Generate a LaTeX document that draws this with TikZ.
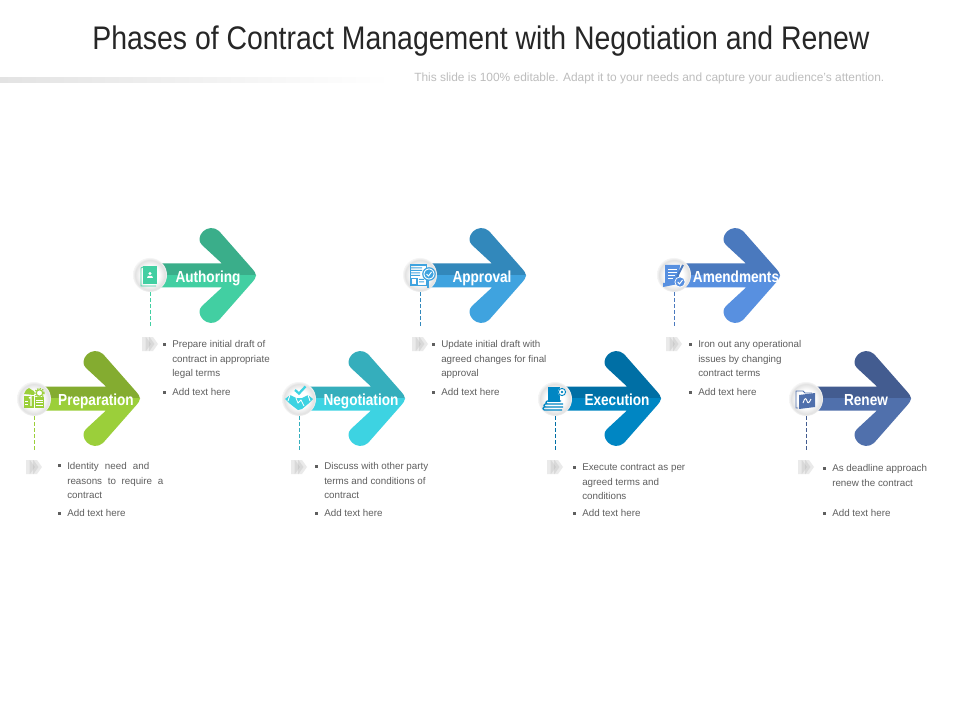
\documentclass[tikz,border=0pt]{standalone}
\usepackage{fontspec}
\setmainfont{Liberation Sans}
\newfontfamily\titlefont[FakeStretch=0.87]{Liberation Sans}
\newfontfamily\headfont[FakeStretch=0.85]{Liberation Sans}
\definecolor{discrim}{HTML}{E2E2E2}
\definecolor{discout}{HTML}{F4F4F4}
\pgfdeclareradialshading{discshade}{\pgfpoint{0bp}{0bp}}{color(0bp)=(white); color(13bp)=(white); color(22bp)=(discrim); color(25bp)=(discout); color(50bp)=(discout)}
\definecolor{bodygray}{HTML}{5F5F5F}
\definecolor{subgray}{HTML}{BDBDBD}
\definecolor{prepD}{HTML}{84AC30}\definecolor{prepL}{HTML}{9BCF3A}
\definecolor{authD}{HTML}{3AAE8A}\definecolor{authL}{HTML}{42CFA2}
\definecolor{negoD}{HTML}{35AEBC}\definecolor{negoL}{HTML}{3DD3E2}
\definecolor{apprD}{HTML}{3288BB}\definecolor{apprL}{HTML}{3FA3DF}
\definecolor{execD}{HTML}{006FA5}\definecolor{execL}{HTML}{0086C3}
\definecolor{amenD}{HTML}{4A79BE}\definecolor{amenL}{HTML}{5890E0}
\definecolor{reneD}{HTML}{435C90}\definecolor{reneL}{HTML}{5070AC}
\tikzset{
  disc/.style={circle,minimum size=25.5pt,inner sep=0pt,shading=discshade},
  headlabel/.style={anchor=base,text=white,inner sep=0pt,font=\headfont\bfseries\fontsize{12pt}{14pt}\selectfont},
  bodyline/.style={anchor=base west,inner sep=0pt,text=bodygray,font=\fontsize{7.35pt}{9pt}\selectfont},
  leader/.style={line width=0.6pt,dash pattern=on 2.6pt off 1.9pt},
  wline/.style={draw=white,line width=0.6pt},
}
% #1 tip x, #2 mid y, #3 shaft start (relative), #4 dark, #5 light
\newcommand\BigArrow[5]{%
  \begin{scope}[shift={(#1,#2)}]
    \def\outline{(#3,-12) -- (-34,-12) -- (-54,-30.5)
      .. controls (-58,-34) and (-57,-40) .. (-53,-44)
      .. controls (-49,-48) and (-42,-49) .. (-37,-44.5)
      -- (-4,-7) .. controls (-1.5,-4) and (0,-2) .. (0,0)
      .. controls (0,2) and (-1.5,4) .. (-4,7)
      -- (-37,44.5)
      .. controls (-42,49) and (-49,48) .. (-53,44)
      .. controls (-57,40) and (-58,34) .. (-54,30.5)
      -- (-34,12) -- (#3,12) -- cycle}
    \begin{scope}\clip (-250,-70) rectangle (20,0.4); \fill[#4] \outline; \end{scope}
    \begin{scope}\clip (-250,0) rectangle (20,70); \fill[#5] \outline; \end{scope}
  \end{scope}}
% small grey triple arrow centred at #1
\newcommand\MiniArrow[1]{%
  \begin{scope}[shift={#1}]
    \foreach \d in {-8,-4.5,-1}{
      \fill[black!40,opacity=.2,shift={(\d,0)}] (0,-7) -- (4,-7) -- (9,0) -- (4,7) -- (0,7) -- cycle;}
  \end{scope}}
\newcommand\BL[4]{\node[bodyline] (#1) at (#2,#3+3.5) {#4};}
\newcommand\BU[2]{\fill[bodygray] (#1-1.5,#2-1.5) rectangle (#1+1.5,#2+1.5);}
\begin{document}
\begin{tikzpicture}[x=0.75pt,y=-0.75pt]
\useasboundingbox (0,0) rectangle (960,720);
\fill[white] (0,0) rectangle (960,720);
% header
\node[anchor=base,inner sep=0pt,text=black!85,font=\titlefont\fontsize{24.5pt}{28pt}\selectfont] (title) at (481,49.5) {Phases of Contract Management with Negotiation and Renew};
\shade[left color=black!11,right color=white] (0,78) rectangle (390,83);
\node[anchor=base west,inner sep=0pt,text=subgray,font=\fontsize{8.94pt}{10pt}\selectfont] (subtitle) at (414,82) {This slide is 100\% editable. Adapt it to your needs and capture your audience's attention.};
% arrows
\BigArrow{140}{398.5}{-107}{prepD}{prepL}
\BigArrow{256}{275.5}{-107}{authD}{authL}
\BigArrow{405}{398.5}{-106}{negoD}{negoL}
\BigArrow{526}{275.5}{-107}{apprD}{apprL}
\BigArrow{661}{398.5}{-106}{execD}{execL}
\BigArrow{780}{275.5}{-107}{amenD}{amenL}
\BigArrow{911}{398.5}{-105}{reneD}{reneL}
% discs
\node[disc] (c1) at (34,399) {};
\node[disc] (c2) at (150,275) {};
\node[disc] (c3) at (299,399) {};
\node[disc] (c4) at (420,275) {};
\node[disc] (c5) at (555,399) {};
\node[disc] (c6) at (674,275) {};
\node[disc] (c7) at (806,399) {};
% leader ends and grey marks
\coordinate (d1) at (34,452); \coordinate (d2) at (150,328); \coordinate (d3) at (299,452);
\coordinate (d4) at (420,328); \coordinate (d5) at (555,452); \coordinate (d6) at (674,328); \coordinate (d7) at (806,452);
\draw[leader,prepL] (c1.south) -- (d1);
\draw[leader,authL] (c2.south) -- (d2);
\draw[leader,negoD] (c3.south) -- (d3);
\draw[leader,apprD] (c4.south) -- (d4);
\draw[leader,execD] (c5.south) -- (d5);
\draw[leader,amenD] (c6.south) -- (d6);
\draw[leader,reneD] (c7.south) -- (d7);
\MiniArrow{(34,467)} \MiniArrow{(150,344)} \MiniArrow{(299,467)} \MiniArrow{(420,344)}
\MiniArrow{(555,467)} \MiniArrow{(674,344)} \MiniArrow{(806,467)}
% --- icons ---
% preparation
\begin{scope}[shift={(33,399)}]
  \fill[prepL] (-9,-5) -- (-7,-9) -- (-4,-11) -- (-1,-9) -- (1,-8) -- (1,-4) -- cycle;
  \draw[prepL,line width=0.8pt] (6.5,-6) circle[radius=3.2];
  \draw[prepL,line width=1pt,dash pattern=on 1pt off 1pt] (6.5,-6) circle[radius=4.6];
  \fill[prepL] (-9,-3) rectangle (1,9);
  \fill[prepL] (2,-2) rectangle (11,9);
  \draw[white,line width=1.1pt] (-4,-1) -- (-2,-2) -- (-2,7);
  \draw[wline] (-8,2) -- (-5,2) (-8,5) -- (-5,5);
  \draw[wline] (3,1) -- (10,1) (3,3.5) -- (10,3.5) (3,6) -- (10,6);
\end{scope}
% authoring
\begin{scope}[shift={(149,275)}]
  \draw[authL,line width=0.6pt] (-6,-8) -- (-8,-7) -- (-8,11) -- (7,11);
  \fill[authL] (-6,-9) rectangle (8,9);
  \fill[white] (1,-1.5) circle[radius=1.7];
  \fill[white] (-2,3) -- (-1,0.8) -- (3,0.8) -- (4,3) -- cycle;
\end{scope}
% negotiation
\begin{scope}[shift={(299,399)}]
  \draw[negoL,line width=1.7pt] (-4,-9) -- (0,-5.5) -- (6.5,-12.5);
  \fill[negoL] (-14,0) -- (-9,-4) -- (-3,-1) -- (3,-1) -- (9,-4) -- (14,0) -- (9,5) -- (3,10) -- (-1,11) -- (-5,8) -- (-10,4) -- cycle;
  \draw[wline] (-3,-1) -- (-1,4) -- (2,1) -- (5,7);
  \draw[wline] (-9,-4) -- (-11,2) (9,-4) -- (11,2);
\end{scope}
% approval
\begin{scope}[shift={(419,275)}]
  \draw[apprL,line width=0.7pt] (-9,-11) rectangle (7,10);
  \fill[apprL] (-9,-11) rectangle (7,-9);
  \fill[apprL] (-8,-7.5) rectangle (3,-6.5) (-8,-5) rectangle (3,-4) (-8,-2.5) rectangle (1,-1.5) (-8,0) rectangle (1,1);
  \draw[apprL,line width=0.9pt] (-8,3.5) rectangle (-2,9.5);
  \fill[apprL] (0,4) rectangle (5,5) (0,6.5) rectangle (5,7.5);
  \fill[white] (10,-1) circle[radius=6.5];
  \draw[apprL,line width=0.9pt] (10,-1) circle[radius=6.2];
  \fill[apprL] (10,-1) circle[radius=4.6];
  \draw[white,line width=0.7pt] (7.5,-1) -- (9.5,1) -- (12.5,-3);
  \draw[apprL,line width=1.6pt] (9,5.5) -- (9,13);
\end{scope}
% execution
\begin{scope}[shift={(555,399)}]
  \fill[execL] (-7,-12) rectangle (5,3);
  \fill[white] (7,-7) circle[radius=4.2];
  \draw[execL,line width=0.7pt] (7,-7) circle[radius=3.6];
  \fill[execL] (7,-7) circle[radius=1.3];
  \draw[execL,line width=0.9pt,rounded corners=1pt] (6,2) -- (-9,2) -- (-9,5) -- (6,5) (8,5) -- (-11,5) -- (-11,8) -- (8,8) (7,8) -- (-12,8) -- (-12,11) -- (7,11);
\end{scope}
% amendments
\begin{scope}[shift={(673,275)}]
  \fill[amenL] (-8,-10) -- (7,-10) -- (5,9) -- (-10,12) -- (-10,8) -- (-8,8) -- cycle;
  \draw[wline] (-5,-6) -- (4,-6) (-5,-3) -- (4,-3) (-5,0) -- (2,0) (-5,3) -- (0,3);
  \draw[amenD,line width=1.4pt] (4,2) -- (10,-10);
  \fill[white] (7,7) circle[radius=5.5];
  \fill[amenL] (7,7) circle[radius=4.6];
  \draw[white,line width=0.7pt] (4.7,7) -- (6.5,9) -- (9.5,5);
\end{scope}
% renew
\begin{scope}[shift={(806,399)}]
  \draw[reneL,line width=0.7pt] (-8,9) -- (-10,9) -- (-10,-8) -- (-3,-8) -- (-1,-6) -- (6,-6);
  \fill[reneL] (-7,-4) -- (9,-6) -- (9,8) -- (-7,10) -- cycle;
  \draw[white,line width=0.7pt] (-3,4) .. controls (-1,-2) and (0,-1) .. (1,2) .. controls (2,5) and (3,4) .. (5,0);
\end{scope}
% headings
\node[headlabel] (h1) at (96,405) {Preparation};
\node[headlabel] (h2) at (208,282) {Authoring};
\node[headlabel] (h3) at (361,405) {Negotiation};
\node[headlabel] (h4) at (482,282) {Approval};
\node[headlabel] (h5) at (617,405) {Execution};
\node[headlabel] (h6) at (736,282) {Amendments};
\node[headlabel] (h7) at (866,405) {Renew};
% preparation text
\BU{59}{465}\BU{59}{513}
\BL{p1}{67}{466}{\makebox[61.5pt][s]{Identity need and}}
\BL{p2}{67}{481}{\makebox[72pt][s]{reasons to require a}}
\BL{p3}{67}{495}{contract}
\BL{p4}{67}{513}{Add text here}
% authoring text
\BU{164.5}{344}\BU{164.5}{392}
\BL{a1}{172}{344}{Prepare initial draft of}
\BL{a2}{172}{359}{contract in appropriate}
\BL{a3}{172}{373}{legal terms}
\BL{a4}{172}{392}{Add text here}
% negotiation text
\BU{316}{466}\BU{316}{513}
\BL{n1}{324}{466}{Discuss with other party}
\BL{n2}{324}{481}{terms and conditions of}
\BL{n3}{324}{495}{contract}
\BL{n4}{324}{513}{Add text here}
% approval text
\BU{433}{344}\BU{433}{392}
\BL{r1}{441}{344}{Update initial draft with}
\BL{r2}{441}{359}{agreed changes for final}
\BL{r3}{441}{373}{approval}
\BL{r4}{441}{392}{Add text here}
% execution text
\BU{574.5}{467}\BU{574.5}{513}
\BL{e1}{582}{467}{Execute contract as per}
\BL{e2}{582}{482}{agreed terms and}
\BL{e3}{582}{496}{conditions}
\BL{e4}{582}{513}{Add text here}
% amendments text
\BU{690.5}{344}\BU{690.5}{392}
\BL{m1}{698}{344}{Iron out any operational}
\BL{m2}{698}{359}{issues by changing}
\BL{m3}{698}{373}{contract terms}
\BL{m4}{698}{392}{Add text here}
% renew text
\BU{824.5}{468}\BU{824.5}{513}
\BL{w1}{832}{468}{As deadline approach}
\BL{w2}{832}{483}{renew the contract}
\BL{w4}{832}{513}{Add text here}
\end{tikzpicture}
\end{document}
